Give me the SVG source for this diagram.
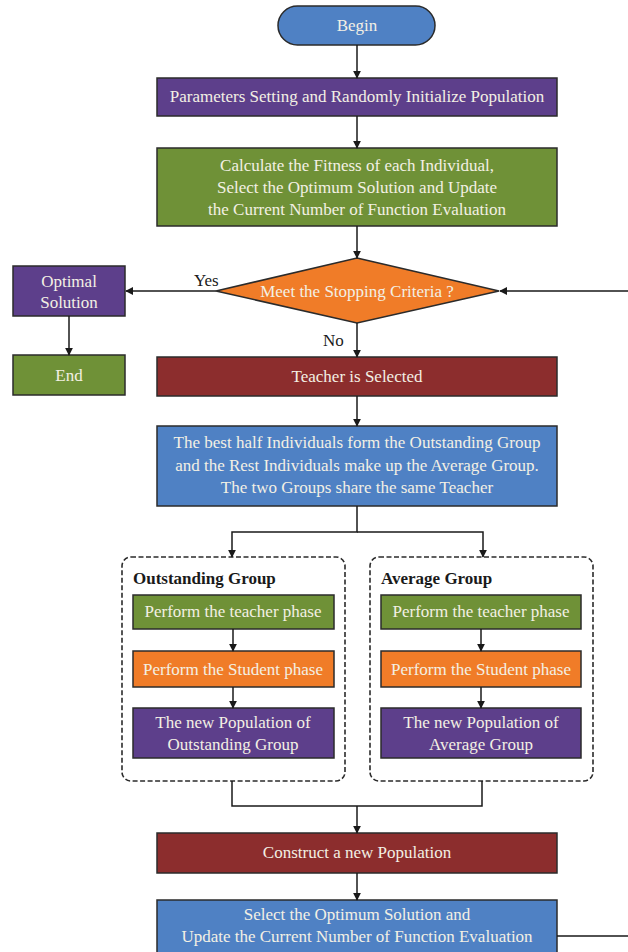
<svg xmlns="http://www.w3.org/2000/svg" width="628" height="952" viewBox="0 0 628 952">
<defs>
<marker id="ah" viewBox="0 0 10 10" refX="9" refY="5" markerWidth="8" markerHeight="8" markerUnits="userSpaceOnUse" orient="auto">
<path d="M0,0 L10,5 L0,10 z" fill="#1a1a1a"/>
</marker>
<style>
.box{stroke:#2b2b2b;stroke-width:1.5}
.blue{fill:#4f81c4}
.purple{fill:#5d3f8b}
.green{fill:#6f9137}
.orange{fill:#f07c28}
.red{fill:#8c2d2d}
.t{font-family:"Liberation Serif","Times New Roman",serif;font-size:17px;fill:#f3f0e4;text-anchor:middle}
.lbl{font-family:"Liberation Serif","Times New Roman",serif;font-size:17px;fill:#1a1a1a}
.bold{font-weight:bold}
.c{fill:none;stroke:#1a1a1a;stroke-width:1.5}
.dash{fill:#fff;stroke:#2b2b2b;stroke-width:1.6;stroke-dasharray:5,2.5}
</style>
</defs>
<rect width="628" height="952" fill="#ffffff"/>

<g id="begin">
<rect class="box blue" x="278" y="6" width="157" height="39" rx="19.5"/>
<text class="t" x="357" y="31">Begin</text>
</g>

<g id="params">
<rect class="box purple" x="157" y="78" width="400" height="38"/>
<text class="t" x="357" y="102">Parameters Setting and Randomly Initialize Population</text>
</g>

<g id="fitness">
<rect class="box green" x="157" y="148" width="400" height="78"/>
<text class="t" x="357" y="171">Calculate the Fitness of each Individual,</text>
<text class="t" x="357" y="193">Select the Optimum Solution and Update</text>
<text class="t" x="357" y="215">the Current Number of Function Evaluation</text>
</g>

<g id="decision">
<polygon class="box orange" points="357,258 499,291 357,323 216,291"/>
<text class="t" x="357" y="297">Meet the Stopping Criteria ?</text>
</g>

<g id="optimal">
<rect class="box purple" x="13" y="266" width="112" height="50"/>
<text class="t" x="69" y="287">Optimal</text>
<text class="t" x="69" y="308">Solution</text>
</g>

<g id="end">
<rect class="box green" x="13" y="355" width="112" height="40"/>
<text class="t" x="69" y="381">End</text>
</g>

<g id="teacher">
<rect class="box red" x="157" y="357" width="400" height="39"/>
<text class="t" x="357" y="382">Teacher is Selected</text>
</g>

<g id="groups">
<rect class="box blue" x="157" y="426" width="400" height="80"/>
<text class="t" x="357" y="448">The best half Individuals form the Outstanding Group</text>
<text class="t" x="357" y="471">and the Rest Individuals make up the Average Group.</text>
<text class="t" x="357" y="493">The two Groups share the same Teacher</text>
</g>

<g id="outstanding">
<rect class="dash" x="122" y="557" width="223" height="224" rx="9"/>
<text class="lbl bold" x="133" y="584">Outstanding Group</text>
<g id="o-teacher">
<rect class="box green" x="133" y="595" width="201" height="34"/>
<text class="t" x="233" y="617">Perform the teacher phase</text>
</g>
<g id="o-student">
<rect class="box orange" x="133" y="651" width="201" height="36"/>
<text class="t" x="233" y="675">Perform the Student phase</text>
</g>
<g id="o-newpop">
<rect class="box purple" x="133" y="708" width="201" height="50"/>
<text class="t" x="233" y="728">The new Population of</text>
<text class="t" x="233" y="750">Outstanding Group</text>
</g>
</g>

<g id="average">
<rect class="dash" x="370" y="557" width="223" height="224" rx="9"/>
<text class="lbl bold" x="381" y="584">Average Group</text>
<g id="a-teacher">
<rect class="box green" x="381" y="595" width="200" height="34"/>
<text class="t" x="481" y="617">Perform the teacher phase</text>
</g>
<g id="a-student">
<rect class="box orange" x="381" y="651" width="200" height="36"/>
<text class="t" x="481" y="675">Perform the Student phase</text>
</g>
<g id="a-newpop">
<rect class="box purple" x="381" y="708" width="200" height="50"/>
<text class="t" x="481" y="728">The new Population of</text>
<text class="t" x="481" y="750">Average Group</text>
</g>
</g>

<g id="construct">
<rect class="box red" x="157" y="833" width="400" height="40"/>
<text class="t" x="357" y="858">Construct a new Population</text>
</g>

<g id="select">
<rect class="box blue" x="157" y="900" width="400" height="60"/>
<text class="t" x="357" y="920">Select the Optimum Solution and</text>
<text class="t" x="357" y="942">Update the Current Number of Function Evaluation</text>
</g>

<g id="connectors">
<path class="c" d="M357,45 V78" marker-end="url(#ah)"/>
<path class="c" d="M357,116 V148" marker-end="url(#ah)"/>
<path class="c" d="M357,226 V258" marker-end="url(#ah)"/>
<path class="c" d="M216,291 H126" marker-end="url(#ah)"/>
<path class="c" d="M69,316 V355" marker-end="url(#ah)"/>
<path class="c" d="M357,323 V357" marker-end="url(#ah)"/>
<path class="c" d="M357,396 V426" marker-end="url(#ah)"/>
<path class="c" d="M357,506 V532 H232 V557" marker-end="url(#ah)"/>
<path class="c" d="M357,532 H483 V557" marker-end="url(#ah)"/>
<path class="c" d="M233,629 V651" marker-end="url(#ah)"/>
<path class="c" d="M233,687 V708" marker-end="url(#ah)"/>
<path class="c" d="M481,629 V651" marker-end="url(#ah)"/>
<path class="c" d="M481,687 V708" marker-end="url(#ah)"/>
<path class="c" d="M232,781 V806 H482 V781"/>
<path class="c" d="M357,806 V833" marker-end="url(#ah)"/>
<path class="c" d="M357,873 V900" marker-end="url(#ah)"/>
<path class="c" d="M557,936 H640 V291 H500" marker-end="url(#ah)"/>
<text class="lbl" x="194" y="286">Yes</text>
<text class="lbl" x="323" y="346">No</text>
</g>
</svg>
